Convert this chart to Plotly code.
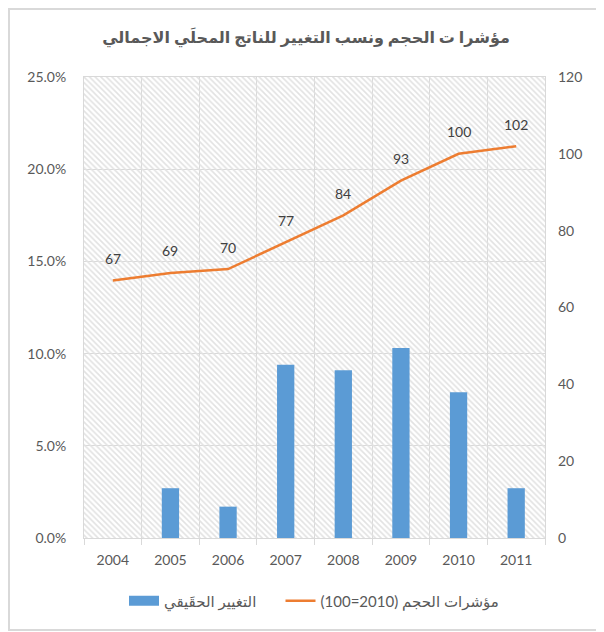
import plotly.graph_objects as go

years = ["2004", "2005", "2006", "2007", "2008", "2009", "2010", "2011"]
real_change = [None, 0.027, 0.017, 0.094, 0.091, 0.103, 0.079, 0.027]
volume_index = [67, 69, 70, 77, 84, 93, 100, 102]

title_text = "مؤشرا ت الحجم ونسب التغيير للناتج المحلَي الاجمالي"
bar_name = "التغيير الحقَيقي"
line_name = "\u202bمؤشرات الحجم (2010=100)\u202c"

left_max = 0.25
right_max = 120

FONT = "Lato, 'DejaVu Sans', sans-serif"
GRID = "#d9d9d9"
TXT = "#595959"
BLUE = "#5B9BD5"
ORANGE = "#ED7D31"

# plot area in figure pixels (page is offset by 8px body margin)
L, R, T, B = 76, 537, 69, 530
W, H = 604, 632
PW, PH = R - L, B - T

fig = go.Figure()

# hatched plot-area background
fig.add_trace(go.Bar(
    x=years, y=[left_max] * len(years), width=1,
    marker=dict(color="#e2e2e2", line=dict(width=0),
                pattern=dict(shape="\\", size=4, solidity=0.4, fillmode="replace")),
    showlegend=False, hoverinfo="skip", yaxis="y",
))

fig.add_trace(go.Bar(
    x=years, y=real_change, name=bar_name, width=0.3,
    marker=dict(color=BLUE, line=dict(width=0)), yaxis="y",
    showlegend=False,
))

# legend proxy for the bar series (wide rectangle like the reference)
fig.add_trace(go.Scatter(
    x=[years[0]], y=[None], name=bar_name + "     ", mode="lines",
    line=dict(color=BLUE, width=10), yaxis="y", hoverinfo="skip",
))

fig.add_trace(go.Scatter(
    x=years, y=volume_index, name=line_name, mode="lines",
    line=dict(color=ORANGE, width=2.5), yaxis="y2",
))

annotations = [
    dict(x=i, y=v, xref="x", yref="y2", text=str(v), showarrow=False,
         yshift=22, font=dict(size=14, color="#404040", family=FONT))
    for i, v in enumerate(volume_index)
]

fig.update_layout(
    width=W, height=H,
    margin=dict(l=L, r=W - R, t=T, b=H - B),
    paper_bgcolor="white", plot_bgcolor="white",
    font=dict(family=FONT, size=14, color=TXT),
    barmode="overlay",
    title=dict(text="<b>" + title_text + "</b>", x=(306 - 8) / W, xanchor="center",
               y=1 - (37 - 8) / H, yanchor="middle", yref="container",
               font=dict(size=16, color=TXT, family=FONT)),
    xaxis=dict(type="category", categoryorder="array", categoryarray=years,
               range=[-0.5, len(years) - 0.5],
               tickson="boundaries", showgrid=True, gridcolor=GRID,
               ticks="outside", ticklen=6, tickcolor=GRID,
               showline=True, linecolor=GRID, mirror=True,
               ticklabelstandoff=9, tickangle=0,
               tickfont=dict(size=14, color=TXT)),
    yaxis=dict(range=[0, left_max], dtick=0.05, tickformat=".1%",
               showgrid=True, gridcolor=GRID, zeroline=False,
               showline=True, linecolor=GRID, mirror=True,
               ticklabelstandoff=14,
               tickfont=dict(size=14, color=TXT)),
    yaxis2=dict(range=[0, right_max], dtick=20, overlaying="y", side="right",
                showgrid=False, zeroline=False, ticklabelstandoff=12,
                tickfont=dict(size=14, color=TXT)),
    legend=dict(orientation="h", x=(314 - 8 - L) / PW, xanchor="center",
                y=(B - (601 - 8)) / PH, yanchor="middle",
                font=dict(size=15, color=TXT)),
    annotations=annotations,
    shapes=[dict(type="rect", xref="paper", yref="paper",
                 x0=(1 - L) / PW, x1=(W + 20 - L) / PW,
                 y0=(B - 622) / PH, y1=(B - 1) / PH,
                 line=dict(color="#d9d9d9", width=2), fillcolor="rgba(0,0,0,0)", layer="below")],
)

fig.write_html("out.html")
